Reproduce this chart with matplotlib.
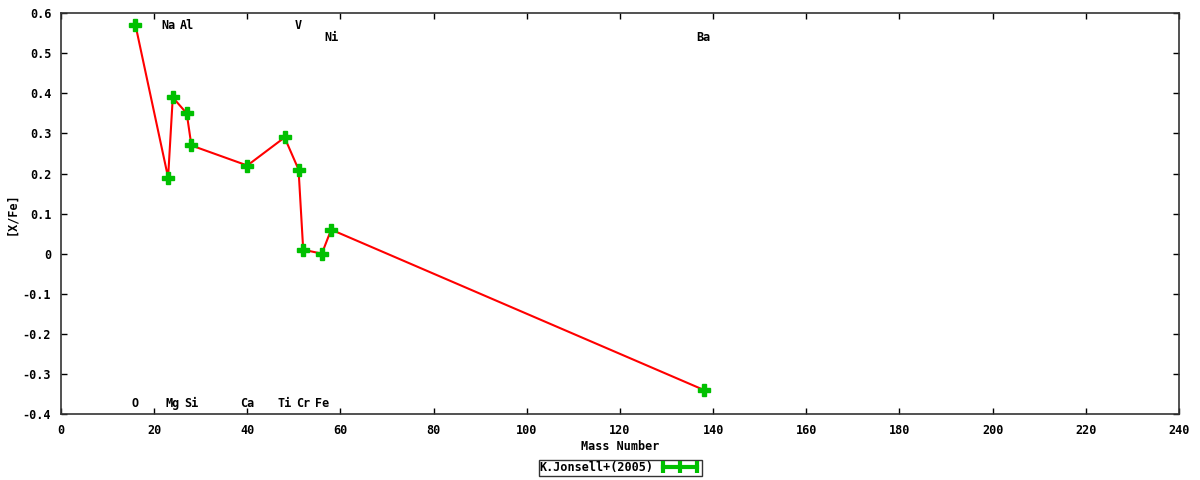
import matplotlib
matplotlib.use("Agg")
import matplotlib.pyplot as plt
from matplotlib.lines import Line2D
from matplotlib.ticker import FuncFormatter

elements = ["O", "Na", "Mg", "Al", "Si", "Ca", "Ti", "V", "Cr", "Fe", "Ni", "Ba"]
mass = [16, 23, 24, 27, 28, 40, 48, 51, 52, 56, 58, 138]
xfe = [0.57, 0.19, 0.39, 0.35, 0.27, 0.22, 0.29, 0.21, 0.01, 0.00, 0.06, -0.34]
# label row for each element: 0 = top, 1 = second row, 2 = bottom
label_row = [2, 0, 2, 0, 2, 2, 2, 0, 2, 2, 1, 1]
row_y = [0.57, 0.54, -0.375]

FONT = dict(family="DejaVu Sans Mono", weight="bold", size=8.5)

fig = plt.figure(figsize=(12, 4.8), dpi=100)
ax = fig.add_axes([0.0508, 0.1375, 0.9317, 0.835])

ax.plot(mass, xfe, color="#ff0000", lw=1.5, zorder=2)
ax.plot(mass, xfe, ls="none", marker="P", ms=9, color="#00c000",
        markeredgecolor="#00c000", zorder=3)

for el, m, r in zip(elements, mass, label_row):
    ax.text(m, row_y[r], el, ha="center", va="center", **FONT)

ax.set_xlim(0, 240)
ax.set_ylim(-0.4, 0.6)
ax.set_xticks(range(0, 241, 20))
ax.set_yticks([i / 10 for i in range(-4, 7)])
ax.yaxis.set_major_formatter(FuncFormatter(lambda v, p: "%g" % round(v, 2)))
ax.tick_params(direction="in", length=4, width=1, top=True, right=True,
               color="black", pad=7)
for lab in ax.get_xticklabels() + ax.get_yticklabels():
    lab.set_fontfamily(FONT["family"])
    lab.set_fontweight("bold")
    lab.set_fontsize(FONT["size"])
for s in ax.spines.values():
    s.set_color("#333333")
    s.set_linewidth(1.2)

ax.set_xlabel("Mass Number", va="center", **FONT)
ax.xaxis.set_label_coords(0.5, -0.082)
ax.set_ylabel("[X/Fe]", va="center", **FONT)
ax.yaxis.set_label_coords(-0.0438, 0.5)

handle = Line2D([], [], color="#00c000", lw=3, marker="|", ms=9, mew=3)
leg = fig.legend([handle], ["K.Jonsell+(2005)"], loc="center",
                 bbox_to_anchor=(0.517, 0.025), numpoints=3, frameon=True,
                 fancybox=False, borderpad=0.1, handlelength=3.5,
                 handletextpad=0.5, borderaxespad=0, markerfirst=False,
                 prop=dict(family=FONT["family"], weight="bold", size=FONT["size"]))
leg.get_frame().set_edgecolor("black")
leg.get_frame().set_linewidth(1.0)

fig.savefig("out.png", dpi=100)
